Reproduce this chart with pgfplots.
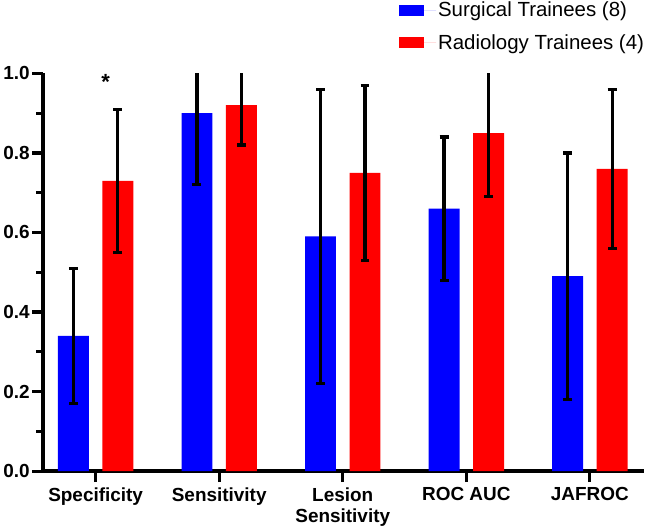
\documentclass[border=0pt]{standalone}
\usepackage{pgfplots}
\usepackage{pgfplotstable}
\pgfplotsset{compat=1.18}
\usepackage{fontspec}
\setmainfont{Liberation Sans}

% mean score and SD per metric; bars sit either side of the category centre
\pgfplotstableread{
x     blue blueerr
-0.18 0.34 0.17
0.82  0.90 0.18
1.82  0.59 0.37
2.82  0.66 0.18
3.82  0.49 0.31
}\surgical
\pgfplotstableread{
x     red  rederr
0.18  0.73 0.18
1.18  0.92 0.10
2.18  0.75 0.22
3.18  0.85 0.16
4.18  0.76 0.20
}\radiology

\begin{document}
\begin{tikzpicture}
\begin{axis}[
  scale only axis, width=603pt, height=399pt,
  xmin=-0.425, xmax=4.44, ymin=0, ymax=1,
  clip mode=individual,
  axis x line*=bottom, axis y line*=left,
  axis line style={-, line width=3.4pt, black},
  tick align=outside,
  major tick length=11pt, minor tick length=7pt,
  tick style={line width=3.2pt, black},
  xtick={0,1,2,3,4},
  xticklabels={Specificity, Sensitivity, Lesion\\Sensitivity, ROC AUC, JAFROC},
  xticklabel style={align=center, font=\fontsize{19}{21.5}\selectfont\bfseries, yshift=-2pt},
  ytick={0,0.2,0.4,0.6,0.8,1.0},
  minor ytick={0.1,0.3,0.5,0.7,0.9},
  yticklabel style={font=\fontsize{19}{21}\selectfont\bfseries, xshift=1pt},
  /pgf/number format/assume math mode=true,
  /pgf/number format/fixed, /pgf/number format/fixed zerofill,
  /pgf/number format/precision=1,
  legend style={at={(0.592,1.185)}, anchor=north west, draw=none, fill=none,
    font=\fontsize{20.5}{24}\selectfont, inner sep=0pt, row sep=12pt,
    nodes={inner sep=2pt}},
  legend cell align=left,
  legend image code/.code={\fill[#1] (0pt,-5.5pt) rectangle (25pt,5.5pt);
    \path (0pt,0pt) -- (37pt,0pt);},
  error bars/error bar style={line width=3.2pt, black},
  error bars/error mark options={rotate=90, mark size=4.5pt, line width=3.2pt, black},
]
\addplot[ybar, bar width=31pt, bar shift=0pt, fill=blue, draw=none,
  error bars/.cd, y dir=both, y explicit]
  table[x=x, y=blue, y error=blueerr] {\surgical};
\addlegendentry{Surgical Trainees (8)}
\addplot[ybar, bar width=31pt, bar shift=0pt, fill=red, draw=none,
  error bars/.cd, y dir=both, y explicit]
  table[x=x, y=red, y error=rederr] {\radiology};
\addlegendentry{Radiology Trainees (4)}
\node[font=\fontsize{22}{24}\selectfont\bfseries, anchor=base] at (axis cs:0.08,0.96) {*};
\end{axis}
\end{tikzpicture}
\end{document}
